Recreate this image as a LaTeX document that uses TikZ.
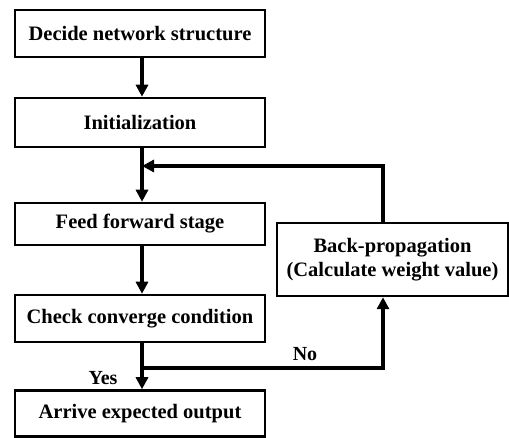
\documentclass[tikz,border=0pt]{standalone}
\usepackage{fontspec}
\setmainfont{Liberation Serif}
\usetikzlibrary{arrows.meta}
\begin{document}
\begin{tikzpicture}[x=1pt,y=-1pt,
  box/.style={draw, line width=2.5pt, minimum width=250pt, inner sep=0pt, align=center,
    font=\fontsize{20.5}{24}\selectfont\bfseries},
  conn/.style={line width=4pt, -{Triangle[length=12pt,width=12pt]}},
  plain/.style={line width=4pt},
  lbl/.style={font=\fontsize{20}{24}\selectfont\bfseries, inner sep=0pt}]
\useasboundingbox (0,0) rectangle (509,438);
\node[box, minimum height=47pt] (b1) at (140,33.5) {Decide network structure};
\node[box, minimum height=49pt] (b2) at (140,122.5) {Initialization};
\node[box, minimum height=42pt] (b3) at (140,224) {Feed forward stage};
\node[box, minimum height=47pt] (b4) at (140,318.5) {Check converge condition};
\node[box, minimum height=46pt] (b5) at (140,413.5) {Arrive expected output};
\node[box, minimum width=231pt, minimum height=73pt] (bp) at (392.5,259.5) {Back-propagation\\(Calculate weight value)};
\coordinate (j1) at (142,166);
\coordinate (j2) at (142,368);
\draw[conn] ([xshift=2pt]b1.south) -- ([xshift=2pt]b2.north);
\draw[conn] ([xshift=2pt]b2.south) -- ([xshift=2pt]b3.north);
\draw[conn] (bp.north -| 383,0) |- (j1);
\draw[conn] ([xshift=2pt]b3.south) -- ([xshift=2pt]b4.north);
\draw[conn] ([xshift=2pt]b4.south) -- ([xshift=2pt]b5.north);
\draw[conn] (j2) -| (bp.south -| 383,0);
\node[lbl] (no) at (305,354) {No};
\node[lbl] (yes) at (103,378) {Yes};
\end{tikzpicture}
\end{document}
